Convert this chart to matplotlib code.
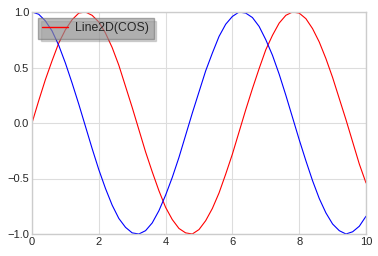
import numpy as np
import matplotlib
matplotlib.use("Agg")
from matplotlib import pyplot as plt

x = np.arange(0, 10.01, 0.2)
y_sin = [0.00, 0.20, 0.39, 0.56, 0.72, 0.84, 0.93, 0.99, 1.00, 0.97,
         0.91, 0.81, 0.68, 0.52, 0.33, 0.14, -0.06, -0.26, -0.44, -0.61,
         -0.76, -0.87, -0.95, -0.99, -1.00, -0.96, -0.88, -0.77, -0.63, -0.46,
         -0.28, -0.08, 0.12, 0.31, 0.49, 0.66, 0.79, 0.90, 0.97, 1.00,
         0.99, 0.94, 0.85, 0.73, 0.58, 0.41, 0.22, 0.03, -0.17, -0.37, -0.54]
y_cos = [1.00, 0.98, 0.92, 0.83, 0.70, 0.54, 0.36, 0.17, -0.03, -0.23,
         -0.42, -0.59, -0.74, -0.86, -0.94, -0.99, -1.00, -0.97, -0.90, -0.79,
         -0.65, -0.49, -0.31, -0.11, 0.09, 0.28, 0.47, 0.63, 0.78, 0.89,
         0.96, 1.00, 0.99, 0.95, 0.87, 0.75, 0.61, 0.44, 0.25, 0.05,
         -0.15, -0.34, -0.52, -0.68, -0.81, -0.91, -0.97, -1.00, -0.98, -0.93, -0.84]
labels = ["Line2D(COS)"]

plt.style.use("seaborn-v0_8-whitegrid")
plt.rcParams["font.family"] = ["Liberation Sans", "DejaVu Sans"]

fig = plt.figure(figsize=(3.78, 2.56), dpi=100)
ax = fig.add_axes([32 / 378, 22 / 256, 334 / 378, 222 / 256])

l1, = ax.plot(x, y_sin, color="r", lw=0.8)
l2, = ax.plot(x, y_cos, color="b", lw=0.8)

ax.set_xlim(0, 10)
ax.set_ylim(-1, 1)
ax.set_xticks([0, 2, 4, 6, 8, 10])
ax.set_yticks([-1.0, -0.5, 0.0, 0.5, 1.0])
ax.tick_params(labelsize=8, pad=2)
ax.grid(color="#dddddd", lw=0.8)
for s in ax.spines.values():
    s.set_visible(True)
    s.set_color("#cccccc")

leg = ax.legend([l1], labels, loc="upper left", frameon=True,
                shadow={"color": "#666666", "alpha": 0.25},
                facecolor="#949494", edgecolor="#777777", fontsize=8.8,
                framealpha=0.6, fancybox=False, borderaxespad=0.5,
                handlelength=2.1, handletextpad=0.6, borderpad=0.35)
leg.get_lines()[0].set_color("r")
leg.get_lines()[0].set_linewidth(1.0)

fig.savefig("out.png", dpi=100)
